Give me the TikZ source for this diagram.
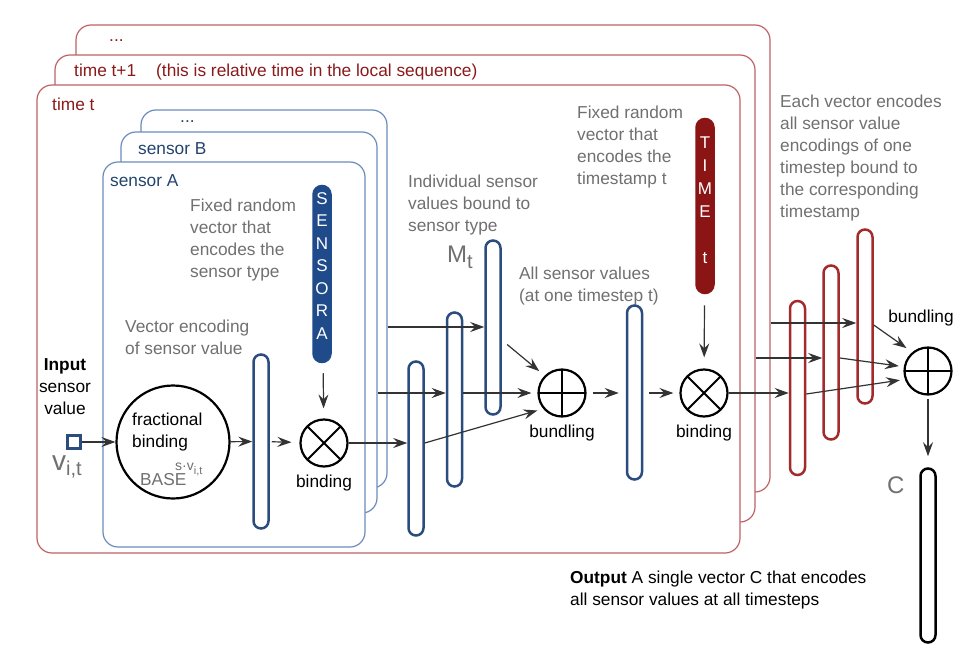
\documentclass[tikz,border=0pt]{standalone}
\usepackage{fontspec}
\setmainfont{Liberation Sans}
\usetikzlibrary{positioning,arrows.meta}

\definecolor{framered}{HTML}{BF6265}
\definecolor{textred}{HTML}{8B1A1A}
\definecolor{capred}{HTML}{A32B2B}
\definecolor{timefill}{HTML}{8B1414}
\definecolor{frameblue}{HTML}{6C8CBC}
\definecolor{textblue}{HTML}{23446F}
\definecolor{capblue}{HTML}{2B4C7E}
\definecolor{sensfill}{HTML}{1F4B8A}
\definecolor{labelgray}{HTML}{707070}
\definecolor{arrowgray}{HTML}{333333}

\begin{document}
\begin{tikzpicture}[x=1pt, y=-1pt, font=\fontsize{17.3}{22}\selectfont, node distance=7pt,
		arr/.style={draw=arrowgray, line width=1.2pt, -{Stealth[length=14pt,width=10pt,inset=5pt]}},
		timeframe/.style={draw=framered, line width=1.2pt, fill=white, rounded corners=15pt, inner sep=0pt},
		sensframe/.style={draw=frameblue, line width=1.2pt, fill=white, rounded corners=15pt, inner sep=0pt},
		vec/.style={rectangle, draw=capblue, line width=2.5pt, fill=white, minimum width=15pt, minimum height=174pt, rounded corners=7.5pt, inner sep=0pt},
		tvec/.style={vec, draw=capred},
		op/.style={circle, draw=black, line width=2.2pt, minimum size=47pt, inner sep=0pt},
		bindop/.style={op, path picture={\draw[line width=2pt] (path picture bounding box.center) +(45:24pt) -- +(225:24pt) +(135:24pt) -- +(-45:24pt);}},
		bundop/.style={op, path picture={\draw[line width=2pt] (path picture bounding box.north) -- (path picture bounding box.south) (path picture bounding box.west) -- (path picture bounding box.east);}},
		note/.style={text=labelgray, align=left, anchor=north west, inner sep=0pt},
		lbl/.style={inner sep=0pt, anchor=west}]
		
		\useasboundingbox (0,0) rectangle (962,656);
		
		\node[timeframe, minimum width=694pt, minimum height=467pt] (tdots) at (423,258.5) {};
		\node[lbl, text=textred] at (109,41) {...};
		\node[timeframe, minimum width=700pt, minimum height=467pt] (tnext) at (405,288.5) {};
		\node[lbl, text=textred] at (74,72) {time t+1\hspace{20pt}(this is relative time in the local sequence)};
		\node[timeframe, minimum width=703pt, minimum height=468pt] (tcur) at (388.5,319) {};
		\node[lbl, text=textred] at (52,104) {time t};
		
		\node[sensframe, minimum width=246pt, minimum height=378pt] (sdots) at (264,299) {};
		\node[lbl, text=textblue] at (180,122) {...};
		\node[sensframe, minimum width=256pt, minimum height=381pt] (sB) at (249,322.5) {};
		\node[lbl, text=textblue] at (138,149) {sensor B};
		\node[sensframe, minimum width=262pt, minimum height=385pt] (sA) at (234,354.5) {};
		\node[lbl, text=textblue] at (110,181) {sensor A};
		
		\node[inner sep=0pt, align=center, anchor=north] (intext) at (65,358) {\textbf{Input}\\sensor\\value};
		\node[draw=capblue, line width=2.5pt, minimum size=13pt, inner sep=0pt] (sq) at (74,442) {};
		\node[lbl, text=labelgray, anchor=base west] (vit) at (52,470) {\fontsize{28}{28}\selectfont v\raisebox{-5pt}{\fontsize{20}{20}\selectfont i,t}};
		
		\node[circle, draw=black, line width=2.2pt, minimum size=113pt, inner sep=0pt] (frac) at (173,442) {};
		\node[inner sep=0pt, align=left, anchor=north west] (fractext) at (132,413) {fractional\\binding};
		\node[lbl, text=labelgray, anchor=base west] (base) at (140,485) {BASE};
		\node[lbl, text=labelgray, anchor=base west] (expo) at (175,470) {\fontsize{14}{14}\selectfont s·v\raisebox{-4pt}{\fontsize{11}{11}\selectfont i,t}};
		
		\node[vec] (vec) at (261,441.5) {};
		\node[note] at (125,320) {Vector encoding\\of sensor value};
		
		\node[bindop] (bind1) at (324,443) {};
		\node[below=7pt of bind1, inner sep=0pt] {binding};
		\node[vec, fill=sensfill, draw=sensfill, minimum width=17pt, minimum height=176pt, rounded corners=8.5pt] (sensA) at (322,274) {};
		\node[inner sep=0pt, align=center, anchor=north, text=white, font=\fontsize{17}{22.5}\selectfont] at (322,192) {S\\E\\N\\S\\O\\R\\A};
		\node[note] at (190,199) {Fixed random\\vector that\\encodes the\\sensor type};
		
		\node[vec] (cap1) at (416,448.5) {};
		\node[vec] (cap2) at (454.5,399.5) {};
		\node[vec] (cap3) at (493,327.5) {};
		\node[lbl, text=labelgray, anchor=base west] (mt) at (447,262) {\fontsize{24}{24}\selectfont M\raisebox{-6pt}{\fontsize{20}{20}\selectfont t}};
		\node[note] at (408,175) {Individual sensor\\values bound to\\sensor type};
		
		\node[bundop] (bund1) at (562,393) {};
		\node[below=7pt of bund1, inner sep=0pt] {bundling};
		\node[note] at (519,267) {All sensor values\\(at one timestep t)};
		\node[vec] (allv) at (634.5,392.5) {};
		
		\node[bindop] (bind2) at (704,393) {};
		\node[below=7pt of bind2, inner sep=0pt] {binding};
		\node[vec, fill=timefill, draw=timefill, minimum width=17pt, rounded corners=8.5pt] (timev) at (705,206) {};
		\node[inner sep=0pt, align=center, anchor=north, text=white, font=\fontsize{17}{23}\selectfont] at (705,137) {T\\I\\M\\E\\~\\t};
		\node[note] at (577,106) {Fixed random\\vector that\\encodes the\\timestamp t};
		
		\node[tvec] (R1) at (797.5,388) {};
		\node[tvec] (R2) at (831,352.5) {};
		\node[tvec] (R3) at (865,316.5) {};
		\node[note] at (780,95) {Each vector encodes\\all sensor value\\encodings of one\\timestep bound to\\the corresponding\\timestamp};
		
		\node[bundop] (bund2) at (928,371) {};
		\node[above=20pt of bund2, xshift=-7pt, inner sep=0pt] {bundling};
		\node[vec, draw=black] (cvec) at (928,555.5) {};
		\node[lbl, text=labelgray, anchor=base west] (clabel) at (887,493) {\fontsize{24}{24}\selectfont C};
		\node[inner sep=0pt, align=left, anchor=north west] (outtext) at (570,571) {\textbf{Output} A single vector C that encodes\\all sensor values at all timesteps};
		
		\draw[arr] (sq.east) -- (sq.east -| frac.west);
		\draw[arr] (frac) -- (vec);
		\draw[arr, shorten <=2pt, shorten >=8pt] (vec) -- (bind1);
		\draw[arr, shorten <=10pt, shorten >=10pt] (sensA) -- (bind1);
		\draw[arr] (bind1.east) -- (bind1.east -| cap1.west);
		\draw[arr] (sB.east |- 0,393) -- (cap2.west |- 0,393);
		\draw[arr] (sdots.east |- 0,327) -- (cap3.west |- 0,327);
		\draw[arr, shorten >=6pt] (cap1.east |- 0,443) -- (bund1.220);
		\draw[arr, shorten >=6pt] (cap2.east |- 0,393) -- (bund1.west);
		\draw[arr, shorten <=7pt, shorten >=7pt] (cap3.east |- 0,340) -- (bund1.135);
		\draw[arr, shorten <=6pt, shorten >=7pt] (bund1.east) -- (bund1.east -| allv.west);
		\draw[arr, shorten <=6pt, shorten >=6pt] (allv.east |- bind2) -- (bind2.west);
		\draw[arr, shorten <=11pt, shorten >=11pt] (timev) -- (bind2);
		\draw[arr] (bind2.east) -- (bind2.east -| R1.west);
		\draw[arr] (tnext.east |- 0,358) -- (R2.west |- 0,358);
		\draw[arr] (tdots.east |- 0,323) -- (R3.west |- 0,323);
		\draw[arr, shorten >=5pt] (R1.east |- 0,394) -- (bund2.200);
		\draw[arr, shorten >=5pt] (R2.east |- 0,358) -- (bund2.170);
		\draw[arr, shorten >=7pt] (R3.east |- 0,325) -- (bund2.130);
		\draw[arr, shorten <=3pt, shorten >=11pt] (bund2) -- (cvec);
\end{tikzpicture}
\end{document}
